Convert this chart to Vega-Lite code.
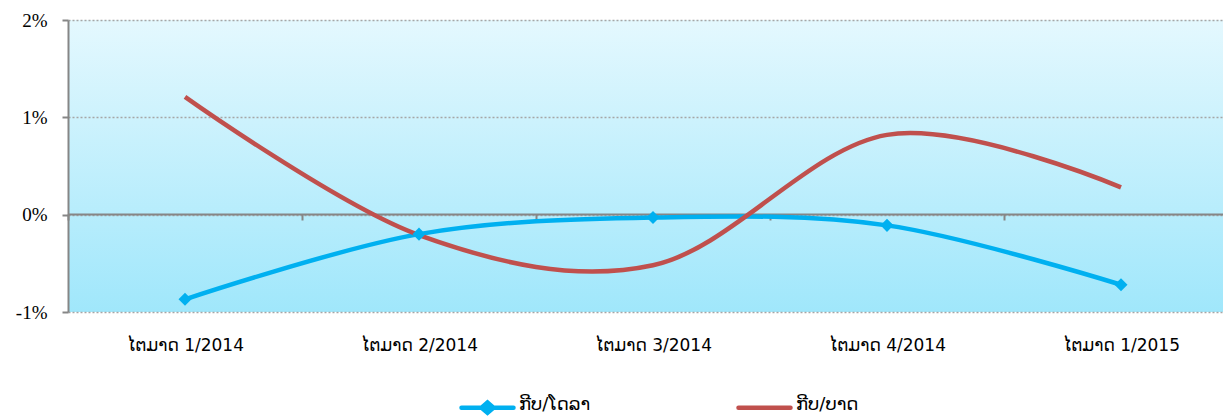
{
  "$schema": "https://vega.github.io/schema/vega-lite/v6.json",
  "width": 1155,
  "height": 292,
  "autosize": {"type": "none"},
  "padding": {"left": 68, "top": 20, "right": 0, "bottom": 104},
  "background": "white",
  "config": {
    "view": {
      "stroke": null,
      "fill": {"gradient": "linear", "x1": 0, "y1": 0, "x2": 0, "y2": 1,
        "stops": [{"offset": 0, "color": "#E4F8FE"}, {"offset": 1, "color": "#A0E7FB"}]}
    },
    "font": "DejaVu Sans"
  },
  "data": {
    "values": [
      {"quarter": "ໄຕມາດ 1/2014", "series": "ກີບ/ໂດລາ", "value": -0.0087},
      {"quarter": "ໄຕມາດ 2/2014", "series": "ກີບ/ໂດລາ", "value": -0.0020},
      {"quarter": "ໄຕມາດ 3/2014", "series": "ກີບ/ໂດລາ", "value": -0.0003},
      {"quarter": "ໄຕມາດ 4/2014", "series": "ກີບ/ໂດລາ", "value": -0.0011},
      {"quarter": "ໄຕມາດ 1/2015", "series": "ກີບ/ໂດລາ", "value": -0.0072},
      {"quarter": "ໄຕມາດ 1/2014", "series": "ກີບ/ບາດ", "value": 0.0121},
      {"quarter": "ໄຕມາດ 2/2014", "series": "ກີບ/ບາດ", "value": -0.0021},
      {"quarter": "ໄຕມາດ 3/2014", "series": "ກີບ/ບາດ", "value": -0.0052},
      {"quarter": "ໄຕມາດ 4/2014", "series": "ກີບ/ບາດ", "value": 0.0082},
      {"quarter": "ໄຕມາດ 1/2015", "series": "ກີບ/ບາດ", "value": 0.0028}
    ]
  },
  "encoding": {
    "x": {
      "field": "quarter", "type": "nominal", "sort": null, "bandPosition": 0.5,
      "scale": {"type": "band", "range": [0, 1170], "paddingInner": 0, "paddingOuter": 0},
      "axis": {
        "title": null, "orient": "bottom", "offset": -98,
        "domainColor": "#868686", "domainWidth": 2,
        "tickColor": "#868686", "tickWidth": 2, "tickSize": 6, "tickBand": "extent",
        "labelPadding": 117, "labelFontSize": 17, "labelColor": "#000", "labelAngle": 0,
        "labelFont": "DejaVu Sans", "grid": false
      }
    },
    "y": {
      "field": "value", "type": "quantitative",
      "scale": {"domain": [-0.01, 0.02], "nice": false, "zero": false},
      "axis": {
        "title": null, "values": [-0.01, 0, 0.01, 0.02],
        "labelExpr": "round(datum.value * 100) + '%'",
        "domainColor": "#868686", "domainWidth": 2,
        "tickColor": "#868686", "tickWidth": 2, "tickSize": 6,
        "labelPadding": 15, "labelFont": "Liberation Serif", "labelFontSize": 19, "labelColor": "#000",
        "grid": true, "gridColor": "#A6A6A6", "gridDash": [2, 2], "gridWidth": 1.5
      }
    },
    "color": {
      "field": "series", "type": "nominal",
      "scale": {"domain": ["ກີບ/ໂດລາ", "ກີບ/ບາດ"], "range": ["#00B0F0", "#C0504D"]},
      "legend": {
        "orient": "none", "legendX": 391, "legendY": 359, "direction": "horizontal", "title": null,
        "symbolSize": 2704, "symbolStrokeWidth": 4.5,
        "labelFontSize": 18, "labelFont": "DejaVu Sans", "labelColor": "#000",
        "columnPadding": 138, "labelOffset": 3,
        "encode": {
          "symbols": {
            "update": {
              "shape": {"signal": "datum.value === 'ກີບ/ໂດລາ' ? 'M-1,0L1,0M-0.23,0L0,-0.2L0.23,0L0,0.2Z' : 'M-1,0L1,0M0,-0.2M0,0.2'"},
              "fill": {"signal": "datum.value === 'ກີບ/ໂດລາ' ? '#00B0F0' : 'transparent'"},
              "stroke": {"signal": "scale('color', datum.value)"},
              "strokeCap": {"value": "round"},
              "opacity": {"value": 1}
            }
          },
          "labels": {"update": {"dy": {"value": -3}}}
        }
      }
    }
  },
  "layer": [
    {"mark": {"type": "line", "interpolate": "cardinal", "strokeWidth": 4.5}},
    {
      "transform": [{"filter": "datum.series === 'ກີບ/ໂດລາ'"}],
      "mark": {"type": "point", "shape": "diamond", "filled": true, "size": 170, "opacity": 1}
    }
  ]
}
